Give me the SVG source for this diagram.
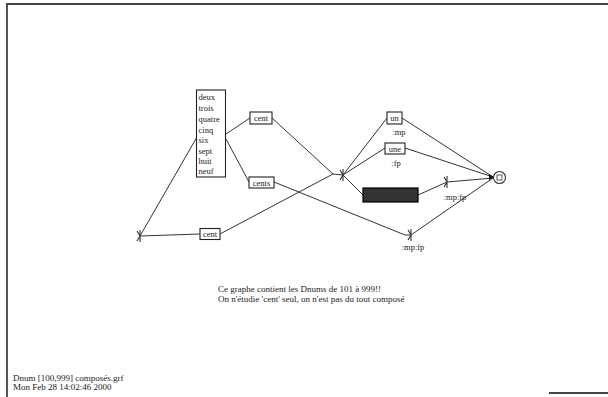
<svg xmlns="http://www.w3.org/2000/svg" width="608" height="397" viewBox="0 0 608 397">
<style>
text{font-family:"Liberation Serif","DejaVu Serif",serif;font-size:8.5px;fill:#222}
.c{text-anchor:middle}
.s{font-size:9px}
.box{fill:#fff;stroke:#222;stroke-width:1.1}
.ln{stroke:#333;stroke-width:1;fill:none}
.fr{stroke:#444;stroke-width:1.8;fill:none}
</style>
<defs>
<g id="glyph"><path d="M-3,-5 L0,0 L-3,5 M0,-6 L0,6" stroke="#333" stroke-width="1.1" fill="none"/></g>
</defs>
<rect width="608" height="397" fill="#fff"/>
<g id="frame">
<path class="fr" d="M7,397 L7,4 L608,4"/>
<path class="fr" d="M549,393 L608,393"/>
</g>
<g id="connectors">
<path class="ln" d="M140,236 L197,137"/>
<path class="ln" d="M140,236 L200,234"/>
<path class="ln" d="M226,134 L250,118"/>
<path class="ln" d="M226,139 L249,182"/>
<path class="ln" d="M272,118 L333,174 L343,175"/>
<path class="ln" d="M220,234 L333,174"/>
<path class="ln" d="M274,182 L405,235 L411,235"/>
<path class="ln" d="M411,235 L493,178"/>
<path class="ln" d="M343,175 L387,118"/>
<path class="ln" d="M343,175 L385,148"/>
<path class="ln" d="M343,175 L363,195"/>
<path class="ln" d="M418,195 L447,182"/>
<path class="ln" d="M447,182 L493,178"/>
<path class="ln" d="M402,118 L493,177"/>
<path class="ln" d="M405,148 L493,177"/>
</g>
<g id="init"><use href="#glyph" x="140" y="236"/></g>
<g id="list">
<rect class="box" x="196.5" y="90" width="29" height="87"/>
<text x="198.5" y="99.5">deux</text>
<text x="198.5" y="110.5">trois</text>
<text x="198.5" y="121.5">quatre</text>
<text x="198.5" y="132.5">cinq</text>
<text x="198.5" y="143">six</text>
<text x="198.5" y="153.5">sept</text>
<text x="198.5" y="163.5">huit</text>
<text x="198.5" y="174">neuf</text>
</g>
<g id="cent1"><rect class="box" x="250" y="112" width="22" height="12"/><text class="c" x="261" y="121">cent</text></g>
<g id="cents"><rect class="box" x="249" y="177" width="25" height="11"/><text class="c" x="261.5" y="185.5">cents</text></g>
<g id="cent2"><rect class="box" x="200" y="228.5" width="20" height="11"/><text class="c" x="210" y="237">cent</text></g>
<g id="node"><use href="#glyph" x="343" y="175"/></g>
<g id="un"><rect class="box" x="387" y="112" width="15" height="12"/><text class="c" x="394.5" y="121">un</text><text class="c" x="399" y="135">:mp</text></g>
<g id="une"><rect class="box" x="385" y="143" width="20" height="11"/><text class="c" x="395" y="151.5">une</text><text class="c" x="396" y="165.5">:fp</text></g>
<g id="sub"><rect x="363" y="188" width="55" height="14" fill="#333" stroke="#000" stroke-width="1.2"/></g>
<g id="out1"><use href="#glyph" x="447" y="182"/><text class="c" x="455" y="199.5">:mp:fp</text></g>
<g id="out2"><use href="#glyph" x="411" y="235"/><text class="c" x="413" y="249.5">:mp:fp</text></g>
<g id="final">
<path d="M489,174 L494,177 L489,180 Z" fill="#111"/>
<circle cx="499.5" cy="177.5" r="6" fill="#fff" stroke="#333" stroke-width="1.1"/>
<rect x="497" y="175" width="5" height="5" fill="none" stroke="#333" stroke-width="0.8"/>
</g>
<g id="comment">
<text class="s" x="218" y="292">Ce graphe contient les Dnums de 101 à 999!!</text>
<text class="s" x="218" y="302">On n'étudie 'cent' seul, on n'est pas du tout composé</text>
</g>
<g id="footer">
<text class="s" x="13" y="381">Dnum [100,999] composés.grf</text>
<text class="s" x="13" y="390">Mon Feb 28 14:02:46 2000</text>
</g>
</svg>
